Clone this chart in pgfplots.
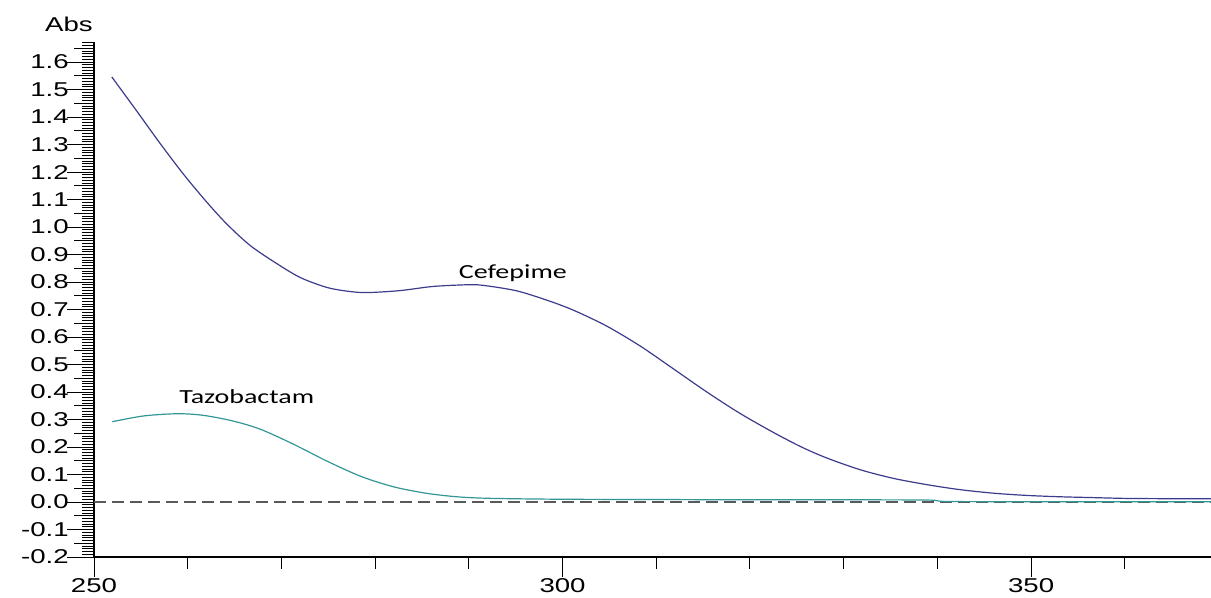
\documentclass[border=0pt]{standalone}
\usepackage{fontspec}
\usepackage{pgfplots}
\pgfplotsset{compat=1.18}
\newfontfamily\tickfont[FakeStretch=1.38]{Liberation Sans}
\newfontfamily\calfont[FakeStretch=1.4]{Carlito}
\definecolor{cef}{RGB}{60,60,140}
\definecolor{tazo}{RGB}{50,150,150}
\begin{document}
\begin{tikzpicture}
\useasboundingbox (-70.5pt,-30.75pt) rectangle (837.75pt,417.75pt);
\begin{axis}[
  scale only axis, width=837.75pt, height=386.25pt,
  at={(0,0)}, anchor=south west,
  xmin=250, xmax=369.2, ymin=-0.2, ymax=1.673,
  enlargelimits=false,
  axis x line=bottom, axis y line=left,
  axis line style={-, line width=0.9pt, black},
  tick align=outside,
  major tick length=15pt, minor tick length=9pt,
  tick style={black, line width=0.7pt},
  xtick={250,300,350}, xticklabels={250,300,350},
  minor xtick={260,270,280,290,310,320,330,340,360},
  ytick={-0.15,-0.05,0.05,0.15,0.25,0.35,0.45,0.55,0.65,0.75,0.85,0.95,1.05,1.15,1.25,1.35,1.45,1.55,1.65},
  yticklabels={},
  minor ytick={-0.2,-0.19,...,1.67},
  extra y ticks={-0.2,-0.1,0,0.1,0.2,0.3,0.4,0.5,0.6,0.7,0.8,0.9,1.0,1.1,1.2,1.3,1.4,1.5,1.6},
  extra y tick labels={-0.2,-0.1,0.0,0.1,0.2,0.3,0.4,0.5,0.6,0.7,0.8,0.9,1.0,1.1,1.2,1.3,1.4,1.5,1.6},
  extra y tick style={major tick length=20pt},
  tick label style={font=\tickfont\fontsize{15}{18}\selectfont},
  xticklabel style={yshift=2.5pt},
  yticklabel style={xshift=4.5pt},
  clip=false,
]
\addplot[black!65, line width=0.8pt, dash pattern=on 9pt off 4.5pt] coordinates {(250,0) (369.2,0)};
\addplot[cef, line width=0.9pt, smooth] coordinates {
(251.9,1.546) (254.6,1.420) (257.1,1.302) (259.6,1.190) (262.1,1.088)
(264.2,1.010) (266.7,0.932) (269.6,0.865) (272.1,0.815) (275.0,0.779)
(277.7,0.764) (279.5,0.762) (282.7,0.769) (286.2,0.784) (289.8,0.790)
(291.5,0.788) (295.1,0.768) (298.5,0.732) (301.2,0.697) (304.7,0.640)
(308.3,0.567) (311.8,0.485) (315.4,0.400) (318.9,0.323) (322.5,0.253)
(325.5,0.200) (328.2,0.160) (331.8,0.117) (335.3,0.086) (338.9,0.063)
(342.4,0.045) (346.0,0.032) (349.5,0.024) (353.1,0.019) (356.6,0.016)
(360.2,0.013) (365.0,0.012) (369.2,0.012)
};
\addplot[tazo, line width=0.9pt, smooth] coordinates {
(251.95,0.292) (255.3,0.313) (258.9,0.321) (261.7,0.315) (264.9,0.294)
(267.8,0.264) (271.3,0.210) (274.9,0.148) (278.5,0.093) (282.0,0.055)
(285.6,0.031) (289.1,0.018) (292.7,0.013) (300,0.010) (310,0.009)
(320,0.008) (330,0.008) (339,0.007) (341,0.002) (350,0.001) (369.2,0.001)
};
\node[anchor=base, inner sep=0pt, font=\calfont\fontsize{15}{18}\selectfont] at (axis cs:294.7,0.812) {Cefepime};
\node[anchor=base, inner sep=0pt, font=\calfont\fontsize{15}{18}\selectfont] at (axis cs:266.3,0.358) {Tazobactam};
\node[anchor=base, inner sep=0pt, xshift=-18.75pt, yshift=7.7pt, font=\tickfont\fontsize{15}{18}\selectfont] at (rel axis cs:0,1) {Abs};
\end{axis}
\end{tikzpicture}
\end{document}
